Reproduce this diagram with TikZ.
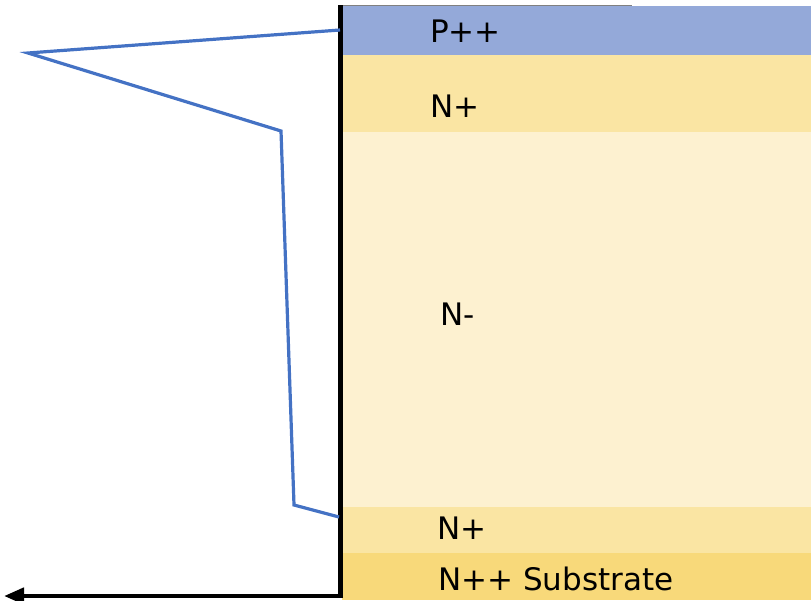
\documentclass[tikz,border=0pt]{standalone}
\usepackage{fontspec}
\setmainfont{DejaVu Sans}
\usepackage{xcolor}
\usetikzlibrary{arrows.meta}

\definecolor{PlayerBlue}{HTML}{94A9D9}
\definecolor{NplusTan}{HTML}{FAE5A3}
\definecolor{NminusTan}{HTML}{FDF1D0}
\definecolor{NsubTan}{HTML}{F8D97A}
\definecolor{ProfileBlue}{HTML}{4472C4}

\begin{document}
\begin{tikzpicture}[x=1pt, y=-1pt,
    label/.style={anchor=base west, inner sep=0pt, font=\fontsize{31}{31}\selectfont},
    profile/.style={ProfileBlue, line width=3.2pt, line join=miter}]

    \useasboundingbox (0,0) rectangle (811,600);

    %% Layers
    \foreach \ytop/\ybot/\col in {6/55/PlayerBlue, 55/132/NplusTan, 132/507/NminusTan,
                                  507/553/NplusTan, 553/600/NsubTan}
    \fill[\col] (342,\ytop) rectangle (811,\ybot);
    \draw[gray, thin] (343,5) -- (632,5);

    %% Layer labels
    \node[label] (pp)    at (430,42)  {P++};
    \node[label] (ntop)  at (430,117) {N+};
    \node[label] (nm)    at (440,325) {N-};
    \node[label] (nbot)  at (437,539) {N+};
    \node[label] (nsub)  at (438,590) {N++ Substrate};

    %% Axes
    \coordinate (top) at (340.5,5);
    \coordinate (corner) at (340.5,596);
    \coordinate (tip) at (4,596);
    \draw[line width=5pt] (top) -- (corner);
    \draw[line width=4.5pt, -{Triangle[length=20pt, width=16pt]}] ([xshift=2.5pt]corner) -- (tip);

    %% Doping profile
    \draw[profile] (340,30) -- (28,53) -- (281,131) -- (294,505) -- (339,517);

\end{tikzpicture}
\end{document}
